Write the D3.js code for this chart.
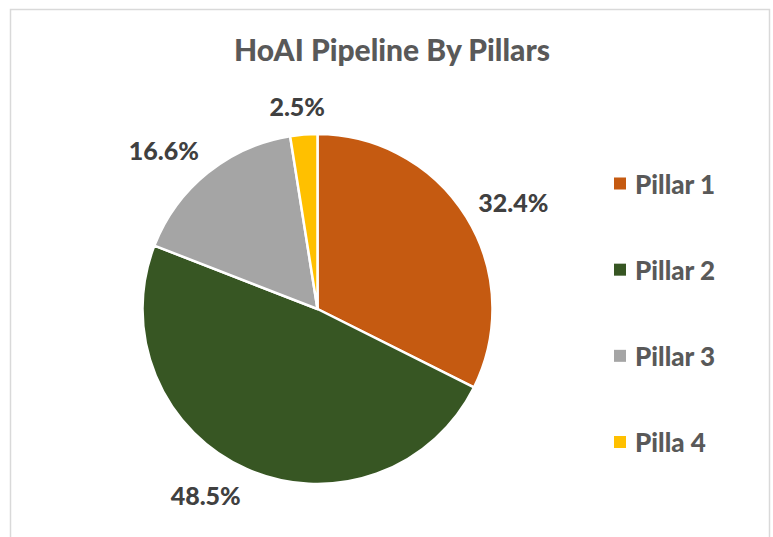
<!DOCTYPE html>
<html>
<head>
<meta charset="utf-8">
<script src="https://cdn.jsdelivr.net/npm/d3@7"></script>
<style>
  html, body { margin: 0; padding: 0; background: #fff; }
  svg { display: block; font-family: Lato, "Open Sans", sans-serif; }
</style>
</head>
<body>
<div id="chart"></div>
<script>
// chart data
const categories = ['Pillar 1', 'Pillar 2', 'Pillar 3', 'Pilla 4'];
const shares = [32.4, 48.5, 16.6, 2.5];
const colors = ['#C55A11', '#375623', '#A5A5A5', '#FFC000'];
const title = 'HoAI Pipeline By Pillars';

const width = 773, height = 537;
const cx = 317.5, cy = 309, radius = 175;

const svg = d3.select('#chart').append('svg')
  .attr('width', width)
  .attr('height', height);

// chart area border
svg.append('rect')
  .attr('x', 10.5).attr('y', 9.5)
  .attr('width', 759).attr('height', 540)
  .attr('fill', '#fff')
  .attr('stroke', '#d9d9d9')
  .attr('stroke-width', 1.5);

svg.append('text')
  .attr('x', 392).attr('y', 61)
  .attr('text-anchor', 'middle')
  .attr('fill', '#595959')
  .style('font-size', '30px')
  .style('font-weight', 900)
  .text(title);

const pie = d3.pie().sort(null).value(d => d);
const arcs = pie(shares);
const arc = d3.arc().innerRadius(0).outerRadius(radius);

const g = svg.append('g').attr('transform', `translate(${cx},${cy})`);

g.selectAll('path.slice')
  .data(arcs)
  .enter().append('path')
  .attr('class', 'slice')
  .attr('d', arc)
  .attr('fill', (d, i) => colors[i])
  .attr('stroke', '#fff')
  .attr('stroke-width', 2.5)
  .attr('stroke-linejoin', 'round');

// data labels outside end
const gap = 14;
g.selectAll('text.lbl')
  .data(arcs)
  .enter().append('text')
  .attr('class', 'lbl')
  .attr('text-anchor', 'middle')
  .attr('dominant-baseline', 'central')
  .attr('fill', '#404040')
  .style('font-size', '25px')
  .style('font-weight', 900)
  .text(d => d.value.toFixed(1) + '%')
  .each(function(d) {
    const a = (d.startAngle + d.endAngle) / 2;
    const ux = Math.sin(a), uy = -Math.cos(a);
    const bb = this.getBBox();
    const x = ux * (radius + gap) + Math.sign(ux) * Math.min(1, Math.abs(ux) * 2.5) * bb.width / 2;
    const y = uy * (radius + gap) + uy * bb.height / 2;
    d3.select(this).attr('x', x).attr('y', y);
  });

// legend
const legendY = d3.scalePoint().domain(categories).range([183.5, 442]);
const legend = svg.append('g');
const items = legend.selectAll('g')
  .data(categories)
  .enter().append('g')
  .attr('transform', d => `translate(614,${legendY(d)})`);

items.append('rect')
  .attr('x', 0).attr('y', -6)
  .attr('width', 12).attr('height', 12)
  .attr('fill', (d, i) => colors[i]);

items.append('text')
  .attr('x', 21).attr('y', 0)
  .attr('dominant-baseline', 'central')
  .attr('fill', '#595959')
  .style('font-size', '26px')
  .style('font-weight', 900)
  .text(d => d);
</script>
</body>
</html>
